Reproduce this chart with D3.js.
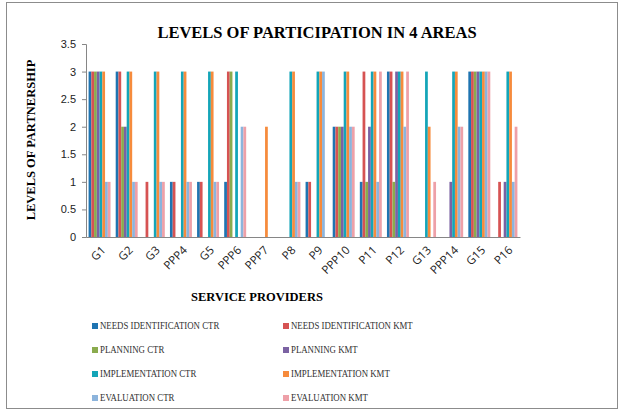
<!DOCTYPE html>
<meta charset="utf-8">
<title>Levels of participation</title>
<style>
body { margin: 0; background: #fff; }
svg { display: block; }
</style>
<svg width="623" height="412"></svg>
<script src="https://d3js.org/d3.v7.min.js"></script>
<script>

var providers = ["G1","G2","G3","PPP4","G5","PPP6","PPP7","P8","P9","PPP10","P11","P12","G13","PPP14","G15","P16"];

var seriesNames = [
  "NEEDS IDENTIFICATION  CTR", "NEEDS IDENTIFICATION  KMT",
  "PLANNING CTR", "PLANNING KMT",
  "IMPLEMENTATION CTR", "IMPLEMENTATION KMT",
  "EVALUATION CTR", "EVALUATION KMT"
];

var needsCtr = [3,3,0,1,1,1,0,0,1,2,1,3,0,0,3,0];
var needsKmt = [3,3,1,1,1,3,0,0,1,2,3,3,0,0,3,1];
var planCtr  = [3,2,0,0,0,3,0,0,0,2,1,1,0,0,3,0];
var planKmt  = [3,2,0,0,0,0,0,0,0,2,2,3,0,1,3,1];
var implCtr  = [3,3,3,3,3,3,0,3,3,3,3,3,3,3,3,3];
var implKmt  = [3,3,3,3,3,0,2,3,3,3,3,3,2,3,3,3];
var evalCtr  = [1,1,1,1,1,2,0,1,3,2,1,2,0,2,3,1];
var evalKmt  = [1,1,1,1,1,2,0,1,0,2,3,3,1,2,3,2];

var yTicks = [0,0.5,1,1.5,2,2.5,3,3.5];

var colors = ["#1f74b1","#d65353","#8aab4e","#7b62a3","#14a5b8","#f68b3c","#8cb4dc","#eea0a8"];

var allSeries = [needsCtr, needsKmt, planCtr, planKmt, implCtr, implKmt, evalCtr, evalKmt];

var svg = d3.select("svg");

// chart border
svg.append("rect")
    .attr("x", 6.5).attr("y", 2.5)
    .attr("width", 611).attr("height", 406)
    .attr("fill", "none").attr("stroke", "#8c8c8c");

var plotLeft = 86, plotRight = 520, plotTop = 44, plotBottom = 237;

var x0 = d3.scaleBand().domain(providers).range([plotLeft, plotRight])
    .paddingInner(0.19).paddingOuter(0.095);
var x1 = d3.scaleBand().domain(d3.range(8)).range([0, x0.bandwidth()]);
var y = d3.scaleLinear().domain([0, 3.5]).range([plotBottom, plotTop]);

// bars
var groups = svg.append("g").selectAll("g")
  .data(providers)
  .join("g")
    .attr("transform", function(d) { return "translate(" + x0(d) + ",0)"; });

groups.selectAll("rect")
  .data(function(d, i) { return allSeries.map(function(s, k) { return {k: k, v: s[i]}; }); })
  .join("rect")
    .attr("x", function(d) { return x1(d.k); })
    .attr("width", x1.bandwidth())
    .attr("y", function(d) { return y(d.v); })
    .attr("height", function(d) { return plotBottom - y(d.v); })
    .attr("fill", function(d) { return colors[d.k]; });

// y axis
var yAxis = svg.append("g")
    .attr("transform", "translate(" + plotLeft + ",0)")
    .call(d3.axisLeft(y).tickValues(yTicks).tickSize(4).tickPadding(6)
      .tickFormat(function(d) { return d === 0 ? "0" : d3.format(".1~f")(d); }));
yAxis.select(".domain").attr("stroke", "#868686");
yAxis.selectAll(".tick line").attr("stroke", "#868686");
yAxis.selectAll("text")
    .attr("font-family", "Liberation Sans, Arial, sans-serif")
    .attr("font-size", 11).attr("fill", "#222");

// x axis
var xAxis = svg.append("g")
    .attr("transform", "translate(0," + plotBottom + ")")
    .call(d3.axisBottom(x0).tickSize(0).tickPadding(0));
xAxis.select(".domain").attr("stroke", "#868686");
xAxis.selectAll("text")
    .attr("font-family", "Open Sans, Liberation Sans, sans-serif")
    .attr("font-size", 11.5).attr("fill", "#222")
    .attr("text-anchor", "end")
    .attr("x", 0).attr("y", 0)
    .attr("dy", "0.35em")
    .attr("transform", "translate(4,11) rotate(-45)");

// titles
svg.append("text")
    .attr("x", 317).attr("y", 38)
    .attr("text-anchor", "middle")
    .attr("font-family", "Liberation Serif, Times New Roman, serif")
    .attr("font-weight", "bold").attr("font-size", 16.5)
    .text("LEVELS OF PARTICIPATION IN 4 AREAS");

svg.append("text")
    .attr("transform", "translate(35,140) rotate(-90)")
    .attr("text-anchor", "middle")
    .attr("font-family", "Liberation Serif, Times New Roman, serif")
    .attr("font-weight", "bold").attr("font-size", 12.5)
    .text("LEVELS OF PARTNERSHIP");

svg.append("text")
    .attr("x", 257).attr("y", 301)
    .attr("text-anchor", "middle")
    .attr("font-family", "Liberation Serif, Times New Roman, serif")
    .attr("font-weight", "bold").attr("font-size", 12.5)
    .text("SERVICE PROVIDERS");

// legend
var legendX = [92, 283], legendY = [328, 352, 376, 400];
var leg = svg.append("g").selectAll("g")
  .data(seriesNames)
  .join("g")
    .attr("transform", function(d, i) {
      return "translate(" + legendX[i % 2] + "," + legendY[Math.floor(i / 2)] + ")";
    });
leg.append("rect")
    .attr("x", 0).attr("y", -5).attr("width", 6).attr("height", 6)
    .attr("fill", function(d, i) { return colors[i]; });
leg.append("text")
    .attr("x", 8).attr("y", 1)
    .attr("font-family", "Liberation Serif, Times New Roman, serif")
    .attr("font-size", 11).attr("fill", "#333")
    .text(function(d) { return d; })
    .each(function() {
      var w = this.getComputedTextLength();
      d3.select(this).attr("textLength", w * 0.8).attr("lengthAdjust", "spacingAndGlyphs");
    });

</script>
